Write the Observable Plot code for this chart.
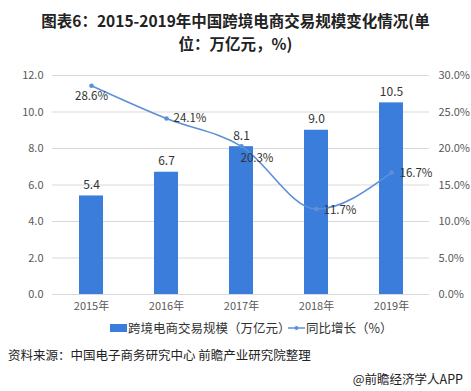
<!DOCTYPE html>
<html><head><meta charset="utf-8">
<script src="https://cdn.jsdelivr.net/npm/d3@7"></script>
<script src="https://cdn.jsdelivr.net/npm/@observablehq/plot@0.6"></script>
<style>
body{margin:0;background:#fff;font-family:"Noto Sans CJK SC","Noto Sans",sans-serif;}
#wrap{position:relative;width:471px;height:391px;overflow:hidden;}
#title{position:absolute;left:20px;top:9px;width:431px;text-align:center;font-weight:bold;font-size:15.5px;line-height:23px;color:#222;}
#chart{position:absolute;left:0;top:55px;}
#legend{position:absolute;top:319px;left:0;width:471px;font-size:12px;color:#333;}
#src{position:absolute;left:8px;top:345px;font-size:12.5px;color:#222;}
#app{position:absolute;right:8px;top:369px;font-size:12.5px;color:#222;}
</style></head>
<body><div id="wrap">
<div id="title">图表6：2015-2019年中国跨境电商交易规模变化情况(单<br>位：万亿元，%)</div>
<div id="chart"></div>
<div id="legend"></div>
<div id="src">资料来源：中国电子商务研究中心 前瞻产业研究院整理</div>
<div id="app">@前瞻经济学人APP</div>
</div>
<script>
const years = ["2015年","2016年","2017年","2018年","2019年"];
const scale = [5.4, 6.7, 8.1, 9.0, 10.5];
const growth = [28.6, 24.1, 20.3, 11.7, 16.7];
const leftTicks = [0,2,4,6,8,10,12];
const barName = "跨境电商交易规模（万亿元）";
const lineName = "同比增长（%）";

const barColor = "#3b7ddb";
const lineColor = "#5d8fd8";
const ratio = 12/30;
const data = years.map((y,i)=>({year:y, v:scale[i], g:growth[i], gy:growth[i]*ratio}));
const labelDx = [0, 7, -1, 7, 8];
const labelDy = [11, 0, 12, 1, 1];
const labelAnchor = ["middle","start","start","start","start"];

const chart = Plot.plot({
  width: 471, height: 264,
  marginLeft: 52, marginRight: 42, marginTop: 20, marginBottom: 25,
  style:{fontFamily:'"Noto Sans CJK SC","Noto Sans",sans-serif', fontSize:"11px", color:"#595959"},
  x:{domain:years, padding:0.68, paddingOuter:0.34, label:null},
  y:{domain:[0,12], label:null},
  marks:[
    Plot.gridY(leftTicks, {stroke:"#d9d9d9", strokeOpacity:1}),
    Plot.axisY(leftTicks, {anchor:"left", tickSize:0, tickPadding:9, tickFormat:d=>d.toFixed(1), label:null, fill:"#595959"}),
    Plot.axisY(leftTicks, {anchor:"right", tickSize:0, tickPadding:9, textAnchor:"start", tickFormat:d=>(d/ratio).toFixed(1)+"%", label:null, fill:"#595959"}),
    Plot.axisX({tickSize:0, tickPadding:8, label:null, fill:"#595959"}),
    Plot.barY(data, {x:"year", y:"v", fill:barColor}),
    Plot.text(data, {x:"year", y:"v", text:d=>d.v.toFixed(1), dy:-11, fill:"#333", fontSize:12}),
    Plot.line(data, {x:"year", y:"gy", stroke:lineColor, strokeWidth:1.6, curve:"monotone-x"}),
    Plot.dot(data, {x:"year", y:"gy", r:2.3, fill:lineColor}),
    ...data.map((d,i)=>Plot.text([d], {x:"year", y:"gy", text:d=>d.g.toFixed(1)+"%", dx:labelDx[i], dy:labelDy[i], textAnchor:labelAnchor[i], fill:"#333", fontSize:11.5}))
  ]
});
document.getElementById("chart").appendChild(chart);

// legend
const lg = d3.select("#legend").append("svg").attr("width",471).attr("height",20);
lg.append("rect").attr("x",110).attr("y",5).attr("width",17).attr("height",8).attr("fill",barColor);
lg.append("text").attr("x",128).attr("y",14).text(barName).attr("font-size",12.5).attr("fill","#333");
lg.append("line").attr("x1",288).attr("x2",305).attr("y1",9).attr("y2",9).attr("stroke",lineColor).attr("stroke-width",1.5);
lg.append("circle").attr("cx",296.5).attr("cy",9).attr("r",2).attr("fill",lineColor);
lg.append("text").attr("x",306).attr("y",14).text(lineName).attr("font-size",12.5).attr("fill","#333");
</script>
</body></html>
